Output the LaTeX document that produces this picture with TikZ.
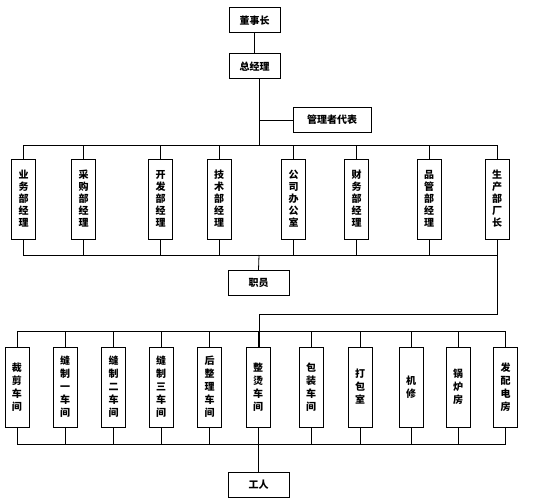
\documentclass[tikz,border=0pt]{standalone}
\usepackage{fontspec}
\newfontfamily\cjk{Noto Sans CJK SC}
\begin{document}
\begin{tikzpicture}[x=1pt,y=-1pt,
  hbox/.style={draw,line width=1pt,minimum width=61pt,minimum height=25pt,inner sep=0pt,font=\cjk\bfseries\fontsize{10}{12}\selectfont},
  vtop/.style={draw,line width=1pt,minimum width=24pt,minimum height=80pt,inner sep=0pt,align=center,font=\cjk\bfseries\fontsize{10}{12}\selectfont},
  vbot/.style={draw,line width=1pt,minimum width=24pt,minimum height=80pt,inner sep=0pt,align=center,font=\cjk\bfseries\fontsize{10}{13}\selectfont},
  conn/.style={line width=0.8pt}]
\useasboundingbox (0,0) rectangle (534,500);
\fill[white] (0,0) rectangle (534,500);
% top
\node[hbox,minimum width=51pt] (dsz) at (254.5,20.5) {董事长};
\node[hbox,minimum width=51pt] (zjl) at (254.5,66.5) {总经理};
\node[hbox,minimum width=78pt] (gl) at (332,120) {管理者代表};
\draw[conn] (dsz) -- (zjl);
\coordinate (busA) at (259,145);
\coordinate (busB) at (259,255);
\draw[conn] (zjl.south -| busA) -- (busA);
\draw[conn] (gl.west) -- (busA |- gl.west);
% department managers
\node[vtop] (t1) at (23.5,199) {业\\务\\部\\经\\理};
\node[vtop] (t2) at (83.5,199) {采\\购\\部\\经\\理};
\node[vtop] (t3) at (160.5,199) {开\\发\\部\\经\\理};
\node[vtop] (t4) at (219,199) {技\\术\\部\\经\\理};
\node[vtop] (t5) at (293.5,199) {公\\司\\办\\公\\室};
\node[vtop] (t6) at (356.5,199) {财\\务\\部\\经\\理};
\node[vtop] (t7) at (429,199) {品\\管\\部\\经\\理};
\node[vtop] (t8) at (497,199) {生\\产\\部\\厂\\长};
\foreach \i in {1,...,8}{
  \draw[conn] (t\i.north) |- (busA);
  \draw[conn] (t\i.south) |- (busB);
}
\node[hbox] (zy) at (258.5,283) {职员};
\draw[conn] (busB) -- (zy.north);
% production
\coordinate (turn) at (259,314);
\coordinate (busC) at (259,331);
\coordinate (busD) at (258,444);
\node[vbot] (b1) at (17,387) {裁\\剪\\车\\间};
\node[vbot] (b2) at (65,387) {缝\\制\\一\\车\\间};
\node[vbot] (b3) at (113.5,387) {缝\\制\\二\\车\\间};
\node[vbot] (b4) at (161,387) {缝\\制\\三\\车\\间};
\node[vbot] (b5) at (209.5,387) {后\\整\\理\\车\\间};
\node[vbot] (b6) at (258,387) {整\\烫\\车\\间};
\node[vbot] (b7) at (311,387) {包\\装\\车\\间};
\node[vbot] (b8) at (360,387) {打\\包\\室};
\node[vbot] (b9) at (411,387) {机\\修};
\node[vbot] (b10) at (458,387) {锅\\炉\\房};
\node[vbot] (b11) at (505.5,387) {发\\配\\电\\房};
\draw[conn] (t8.south) |- (turn) -- (b6.north -| turn);
\foreach \i in {1,...,11}{
  \draw[conn] (b\i.north) |- (busC);
  \draw[conn] (b\i.south) |- (busD);
}
\node[hbox] (gr) at (258.5,484.5) {工人};
\draw[conn] (busD) -- (gr.north -| busD);
\end{tikzpicture}
\end{document}
